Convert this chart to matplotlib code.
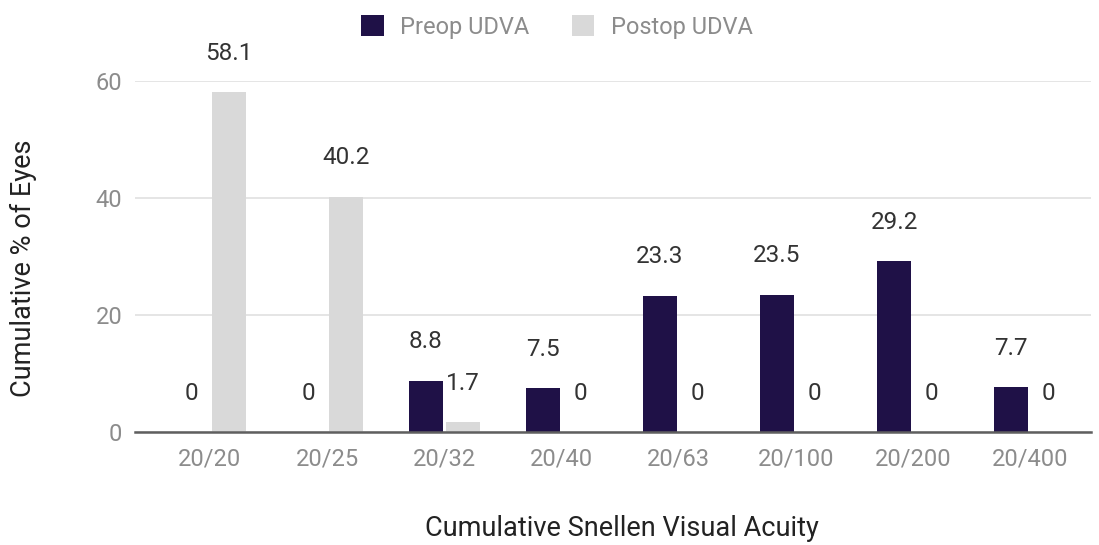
import matplotlib
matplotlib.use("Agg")
import matplotlib.pyplot as plt
from matplotlib.patches import Patch
import numpy as np

categories = ["20/20", "20/25", "20/32", "20/40", "20/63", "20/100", "20/200", "20/400"]
preop = [0, 0, 8.8, 7.5, 23.3, 23.5, 29.2, 7.7]
postop = [58.1, 40.2, 1.7, 0, 0, 0, 0, 0]
preop_labels = ["0", "0", "8.8", "7.5", "23.3", "23.5", "29.2", "7.7"]
postop_labels = ["58.1", "40.2", "1.7", "0", "0", "0", "0", "0"]
yticks = [0, 20, 40, 60]

plt.rcParams['font.family'] = ['Roboto', 'DejaVu Sans']

W, H = 1099, 545
fig = plt.figure(figsize=(W / 100, H / 100), dpi=100)
ax = fig.add_axes([135 / W, (H - 432) / H, (1091 - 135) / W, (432 - 81) / H])

x = np.arange(len(categories))
bw = 0.29
gap = 0.015
c_pre = "#1f1147"
c_post = "#d9d9d9"
ax.bar(x - bw / 2 - gap, preop, bw, color=c_pre, zorder=3)
ax.bar(x + bw / 2 + gap, postop, bw, color=c_post, zorder=3)

for xi, v, lab in zip(x, preop, preop_labels):
    ax.annotate(lab, (xi - bw / 2 - gap, v), xytext=(0, 28), textcoords="offset points",
                ha="center", va="center", fontsize=17.5, color="#333333", annotation_clip=False)
for xi, v, lab in zip(x, postop, postop_labels):
    ax.annotate(lab, (xi + bw / 2 + gap, v), xytext=(0, 28), textcoords="offset points",
                ha="center", va="center", fontsize=17.5, color="#333333", annotation_clip=False)

ax.set_xlim(-0.64, 7.52)
ax.set_ylim(0, 60)
ax.set_yticks(yticks)
ax.set_xticks(x)
ax.set_xticklabels(categories)
ax.tick_params(axis="both", length=0, labelsize=17, labelcolor="#8c8c8c")
ax.tick_params(axis="x", pad=11)
ax.tick_params(axis="y", pad=9)
ax.grid(axis="y", color="#e0e0e0", linewidth=1.2, zorder=0)
for s in ["top", "right", "left"]:
    ax.spines[s].set_visible(False)
ax.spines["bottom"].set_color("#5f5f5f")
ax.spines["bottom"].set_linewidth(1.8)
ax.spines["bottom"].set_zorder(4)

fig.text(23 / W, 1 - 268 / H, "Cumulative % of Eyes", ha="center", va="center", rotation=90,
         fontsize=19.5, color="#222222")
fig.text(622 / W, 1 - 528 / H, "Cumulative Snellen Visual Acuity", ha="center", va="center",
         fontsize=19.5, color="#222222")

handles = [Patch(facecolor=c_pre, label="Preop UDVA"), Patch(facecolor=c_post, label="Postop UDVA")]
leg = fig.legend(handles=handles, loc="center", bbox_to_anchor=(557 / W, 1 - 27 / H), ncol=2,
                 frameon=False, fontsize=17, labelcolor="#8c8c8c", handlelength=0.95,
                 handleheight=0.95, columnspacing=1.8, handletextpad=0.7)

fig.savefig("out.png", dpi=100)
